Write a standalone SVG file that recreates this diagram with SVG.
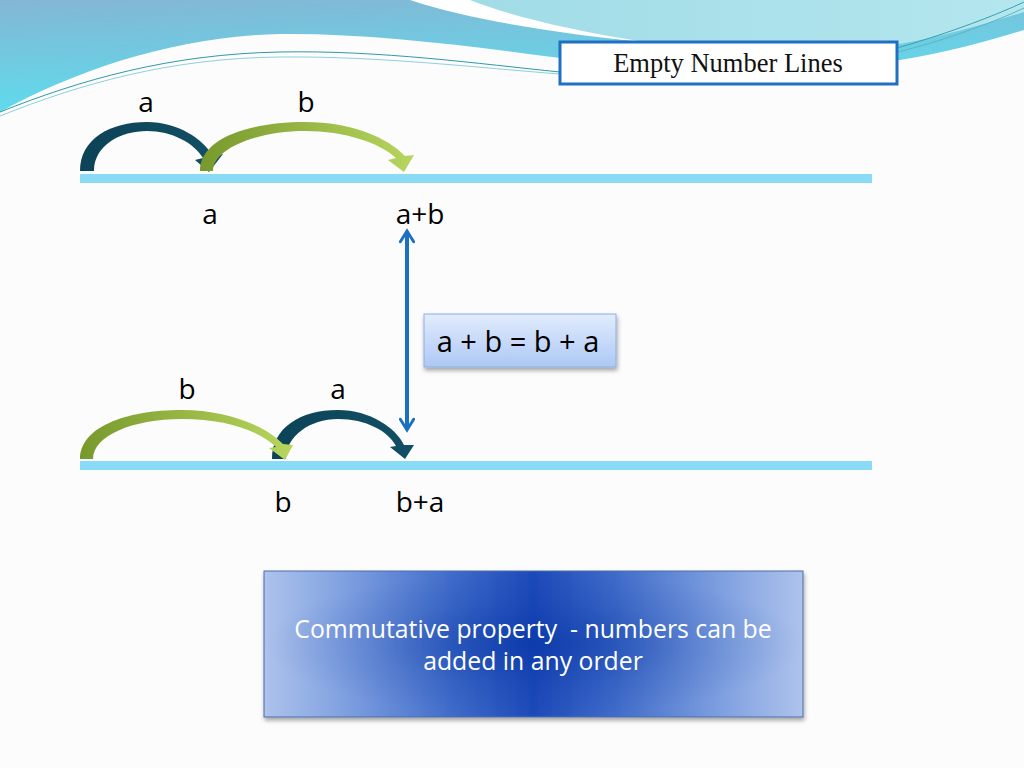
<svg xmlns="http://www.w3.org/2000/svg" width="1024" height="768" viewBox="0 0 1024 768">
  <defs>
    <linearGradient id="gA" x1="0" y1="0" x2="0.3" y2="1">
      <stop offset="0" stop-color="#84b6d4"/>
      <stop offset="1" stop-color="#5cdeee"/>
    </linearGradient>
    <linearGradient id="gB" x1="0" y1="0" x2="1" y2="0">
      <stop offset="0" stop-color="#9fdbe6"/>
      <stop offset="1" stop-color="#b4e6ee"/>
    </linearGradient>
    <linearGradient id="gGreen" x1="0" y1="0" x2="1" y2="0">
      <stop offset="0" stop-color="#77992c"/>
      <stop offset="1" stop-color="#b8d65e"/>
    </linearGradient>
    <linearGradient id="gDark" x1="0" y1="0" x2="1" y2="0">
      <stop offset="0" stop-color="#0c4356"/>
      <stop offset="1" stop-color="#124f66"/>
    </linearGradient>
    <linearGradient id="gEq" x1="0" y1="0" x2="0" y2="1">
      <stop offset="0" stop-color="#e2ecfd"/>
      <stop offset="1" stop-color="#adc8f5"/>
    </linearGradient>
    <linearGradient id="gNote" x1="0" y1="0" x2="1" y2="0">
      <stop offset="0" stop-color="#aec3ec"/>
      <stop offset="0.15" stop-color="#7fa0e0"/>
      <stop offset="0.35" stop-color="#3f6bc9"/>
      <stop offset="0.5" stop-color="#1d4ab9"/>
      <stop offset="0.65" stop-color="#3f6bc9"/>
      <stop offset="0.85" stop-color="#7fa0e0"/>
      <stop offset="1" stop-color="#aec3ec"/>
    </linearGradient>
    <radialGradient id="gNoteV" cx="0.5" cy="0.5" r="0.5">
      <stop offset="0" stop-color="#0030a0" stop-opacity="0.55"/>
      <stop offset="0.6" stop-color="#0030a0" stop-opacity="0.15"/>
      <stop offset="1" stop-color="#0030a0" stop-opacity="0"/>
    </radialGradient>
    <filter id="shadow" x="-10%" y="-10%" width="120%" height="130%">
      <feDropShadow dx="1" dy="3" stdDeviation="2" flood-color="#000" flood-opacity="0.35"/>
    </filter>
    <marker id="chev" viewBox="0 0 12 12" refX="10" refY="6" markerWidth="4" markerHeight="4" markerUnits="strokeWidth" orient="auto-start-reverse">
      <path d="M2,1 L10,6 L2,11" fill="none" stroke="#1b6fc0" stroke-width="2.2" stroke-linecap="round"/>
    </marker>
    <style>
      .lbl { font-family: "Open Sans", "Noto Sans", sans-serif; font-size: 28px; fill: #000; text-anchor: middle; }
      .nline { fill: #8adcf6; }
      .thin { fill: none; stroke-width: 1; }
      .note { font-family: "Open Sans", "Noto Sans", sans-serif; font-size: 24.8px; fill: #ffffff; text-anchor: middle; }
    </style>
  </defs>

  <!-- page background -->
  <rect width="1024" height="768" fill="#fcfcfc"/>

  <!-- top decoration -->
  <g id="decoration">
    <path d="M0,0 H1024 V30 C990,40 950,52 900,60 L560,58 C470,46 370,33 280,34 C180,36 80,68 0,112 Z" fill="url(#gA)"/>
    <path d="M420,0 H1024 V12 C985,24 945,36 900,44 C800,46 700,46 640,42 C560,32 480,16 420,0 Z" fill="url(#gB)"/>
    <path d="M410,0 H470 C510,16 570,30 645,42 C560,34 470,20 410,0 Z" fill="#ffffff"/>
    <path d="M0,112 C80,80 170,54 280,52 C380,50 480,64 560,72" class="thin" stroke="#2e9aa8"/>
    <path d="M0,116 C80,84 170,58 280,57 C380,56 480,68 560,74" class="thin" stroke="#8fd0dc"/>
    <path d="M890,50 C940,36 990,18 1024,2" class="thin" stroke="#3b9fb0"/>
    <path d="M890,54 C940,42 990,24 1024,8" class="thin" stroke="#5bb5c4"/>
  </g>

  <!-- title -->
  <g id="title">
    <rect x="560" y="42" width="337" height="42" fill="#ffffff" stroke="#1f6fc4" stroke-width="3"/>
    <text x="728" y="72" font-family="Liberation Serif, serif" font-size="26.5" text-anchor="middle" fill="#111">Empty Number Lines</text>
  </g>

  <!-- number lines -->
  <g id="line-top">
    <rect x="80" y="174" width="792" height="9" class="nline"/>
  </g>
  <g id="line-bottom">
    <rect x="80" y="461" width="792" height="9" class="nline"/>
  </g>

  <!-- connectors -->
  <g id="connectors">
    <!-- top row: a then b -->
    <path d="M80,171 C80,139 110,122 147,122 C178,122 203,139 213,156 L223,154 L209,172 L195,160 L203,158 C194,143 172,131 147,131 C121,131 94,145 94,171 Z" fill="url(#gDark)"/>
    <path d="M200,171 C200,138 250,122 305,122 C352,122 388,138 405,156 L414,155 L404,172 L388,160 L396,158 C380,143 345,131 305,131 C258,131 213,148 213,171 Z" fill="url(#gGreen)"/>
    <!-- bottom row: b then a -->
    <path d="M272,459 C272,428 300,410 338,410 C370,410 396,428 404,445 L414,445 L405,459 L390,447 L396,446 C388,431 366,419 338,419 C310,419 286,436 286,459 Z" fill="url(#gDark)"/>
    <path d="M80,459 C80,428 124,410 182,410 C225,410 265,425 283,444 L293,445 L285,460 L269,448 L276,447 C258,430 225,419 182,419 C132,419 93,436 93,459 Z" fill="url(#gGreen)"/>
    <!-- double arrow -->
    <line x1="407" y1="231" x2="407" y2="430" stroke="#1b6fc0" stroke-width="4" marker-start="url(#chev)" marker-end="url(#chev)"/>
  </g>

  <!-- labels -->
  <g id="labels">
    <text x="146" y="112" class="lbl">a</text>
    <text x="306" y="112" class="lbl">b</text>
    <text x="210" y="224" class="lbl">a</text>
    <text x="420" y="224" class="lbl">a+b</text>
    <text x="187" y="399" class="lbl">b</text>
    <text x="338" y="399" class="lbl">a</text>
    <text x="283" y="512" class="lbl">b</text>
    <text x="420" y="512" class="lbl">b+a</text>
  </g>

  <!-- equation box -->
  <g id="equation">
    <rect x="424" y="314" width="192" height="53" fill="url(#gEq)" stroke="#8eaedc" stroke-width="1" filter="url(#shadow)"/>
    <text x="518" y="352" class="lbl" style="font-size:29px">a + b = b + a</text>
  </g>

  <!-- note box -->
  <g id="note">
    <rect x="264" y="571" width="539" height="146" fill="url(#gNote)" stroke="#4a6fa8" stroke-width="1" filter="url(#shadow)"/>
    <rect x="264" y="571" width="539" height="146" fill="url(#gNoteV)"/>
    <text x="533" y="638" class="note" xml:space="preserve">Commutative property  - numbers can be</text>
    <text x="533" y="670" class="note">added in any order</text>
  </g>
</svg>
